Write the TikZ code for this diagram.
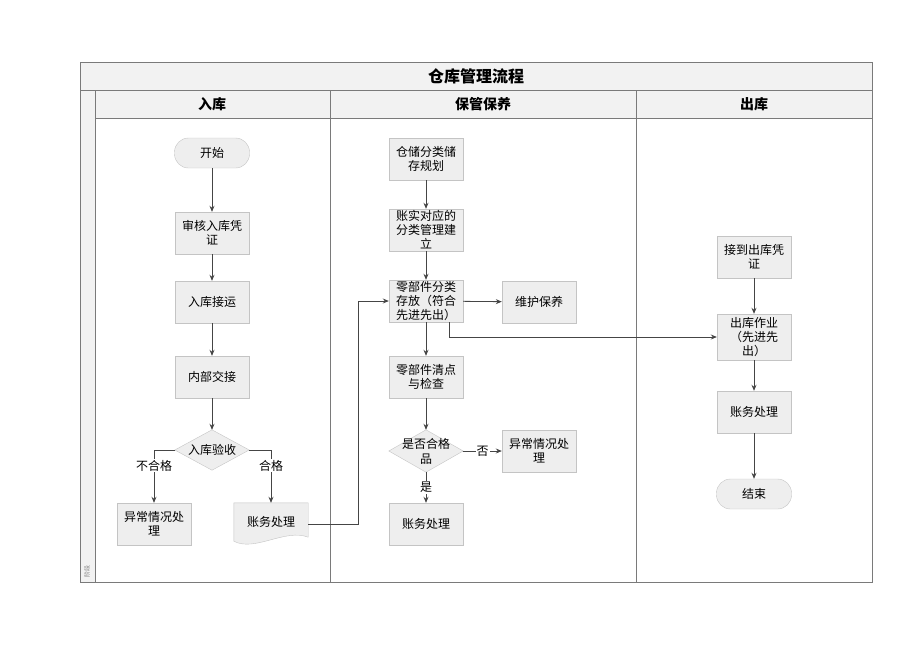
\documentclass[tikz,border=0pt]{standalone}
\usepackage{fontspec}
\newfontfamily\cjk{Noto Sans CJK SC}
\usetikzlibrary{arrows.meta}
\pgfdeclarelayer{bg}
\pgfsetlayers{bg,main}
\definecolor{boxfill}{HTML}{EEEEEE}
\definecolor{boxline}{HTML}{C4C4C4}
\definecolor{laneline}{HTML}{7A7A7A}
\definecolor{hdrfill}{HTML}{F2F2F2}
\definecolor{arrowc}{HTML}{454545}
\tikzset{
 proc/.style={rectangle, draw=boxline, fill=boxfill, minimum width=74pt, minimum height=42pt, inner sep=1pt, align=center, font=\cjk\fontsize{12}{14}\selectfont},
 term/.style={proc, rounded corners=14pt, minimum height=30pt, minimum width=75pt},
 shapebox/.style={rectangle, draw=none, minimum width=74pt, minimum height=42pt, inner sep=0pt, align=center, font=\cjk\fontsize{12}{15}\selectfont},
 shapefill/.style={fill=boxfill, draw=boxline},
 arr/.style={draw=arrowc, line width=0.8pt, -{Stealth[length=6pt,width=5pt]}},
 lbl/.style={fill=white, inner sep=1pt, font=\cjk\fontsize{12}{14}\selectfont},
 lane/.style={draw=laneline, line width=0.8pt},
 hdr/.style={font=\cjk\bfseries\fontsize{14}{16}\selectfont},
}
\begin{document}
\begin{tikzpicture}[x=1pt,y=-1pt]
\useasboundingbox (0,0) rectangle (920,651);
% frame
\fill[hdrfill] (80,62) rectangle (872,90);
\fill[hdrfill] (95,90) rectangle (872,118);
\fill[hdrfill] (80,90) rectangle (95,582);
\draw[lane] (80,62) rectangle (872,582);
\draw[lane] (80,90) -- (872,90);
\draw[lane] (95,118) -- (872,118);
\draw[lane] (95,90) -- (95,582);
\draw[lane] (330,90) -- (330,582);
\draw[lane] (636,90) -- (636,582);
\node[font=\cjk\bfseries\fontsize{16}{18}\selectfont] (title) at (476,76) {仓库管理流程};
\node[hdr] (h1) at (212,104) {入库};
\node[hdr] (h2) at (483,104) {保管保养};
\node[hdr] (h3) at (754,104) {出库};
\node[font=\cjk\fontsize{6}{7}\selectfont, rotate=90, text=gray] (stage) at (87,571) {阶段};

% lane 1
\node[term] (start) at (212,153) {开始};
\node[proc] (s1) at (212,233) {审核入库凭\\证};
\node[proc] (s2) at (212,302) {入库接运};
\node[proc] (s3) at (212,377) {内部交接};
\node[shapebox, minimum height=40pt] (d1) at (212,450) {入库验收};
\node[proc] (err1) at (154,524) {异常情况处\\理};
\node[shapebox] (doc1) at (271,524) {\raisebox{5pt}{账务处理}};

% lane 2
\node[proc] (p1) at (426,159) {仓储分类储\\存规划};
\node[proc] (p2) at (426,230) {账实对应的\\分类管理建\\立};
\node[proc] (p3) at (426,301) {零部件分类\\存放（符合\\先进先出）};
\node[proc] (m1) at (539,302) {维护保养};
\node[proc] (p4) at (426,377) {零部件清点\\与检查};
\node[shapebox] (d2) at (426,451) {是否合格\\品};
\node[proc] (err2) at (539,451) {异常情况处\\理};
\node[proc] (acc2) at (426,524) {账务处理};

% lane 3
\node[proc] (o1) at (754,257) {接到出库凭\\证};
\node[proc, minimum height=46pt] (o2) at (754,337) {出库作业\\（先进先\\出）};
\node[proc] (o3) at (754,412) {账务处理};
\node[term] (end) at (754,494) {结束};

\begin{pgfonlayer}{bg}
\path[shapefill] (d1.north) -- (d1.east) -- (d1.south) -- (d1.west) -- cycle;
\path[shapefill] (d2.north) -- (d2.east) -- (d2.south) -- (d2.west) -- cycle;
\path[shapefill] (doc1.north west) -- (doc1.north east) -- ([yshift=8pt]doc1.south east)
  .. controls +(-23,-9) and +(21,11) .. ([yshift=4pt]doc1.south west) -- cycle;
\end{pgfonlayer}

% connectors
\draw[arr] (start) -- (s1);
\draw[arr] (s1) -- (s2);
\draw[arr] (s2) -- (s3);
\draw[arr] (s3) -- (d1);
\draw[arr] (d1.west) -| node[lbl, pos=0.65] {不合格} (err1.north);
\draw[arr] (d1.east) -| node[lbl, pos=0.65] {合格} (doc1.north);
\draw[arr] (doc1.east) -- ++(50,0) |- (p3.west);
\draw[arr] (p1) -- (p2);
\draw[arr] (p2) -- (p3);
\draw[arr] (p3) -- (m1);
\draw[arr] (p3) -- (p4);
\draw[arr] (p4) -- (d2);
\draw[arr] (d2.east) -- node[lbl] {否} (err2.west);
\draw[arr] (d2.south) -- node[lbl] {是} (acc2.north);
\draw[arr] ([xshift=23pt]p3.south) |- (o2.west);
\draw[arr] (o1) -- (o2);
\draw[arr] (o2) -- (o3);
\draw[arr] (o3) -- (end);
\end{tikzpicture}
\end{document}
